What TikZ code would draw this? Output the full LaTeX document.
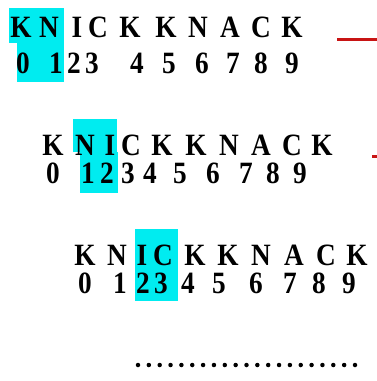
\documentclass[tikz,border=0pt]{standalone}
\usepackage{fontspec}
\setmainfont{Liberation Serif}
\newfontfamily\glyphfont[FakeStretch=0.88]{Liberation Serif Bold}
\definecolor{hlcyan}{RGB}{0,236,240}
\definecolor{markred}{RGB}{200,20,20}
\begin{document}
\begin{tikzpicture}[x=1pt,y=-1pt,
  glyph/.style={anchor=base,inner sep=0pt,font=\glyphfont\fontsize{31}{31}\selectfont},
  hl/.style={fill=hlcyan,draw=none},
  redline/.style={draw=markred,line width=3pt},
  dot/.style={circle,fill=black,inner sep=0pt,minimum size=4.5pt}]
\useasboundingbox (0,0) rectangle (377,381);
% highlights
\fill[hl] (9,8) rectangle (64,43);
\fill[hl] (17,43) rectangle (64,82);
\fill[hl] (73,119) rectangle (117,152);
\fill[hl] (80,152) rectangle (118,193);
\fill[hl] (135,229) rectangle (178,301);
% row 1
\foreach \c/\x [count=\i] in {K/21,N/49,I/77,C/98,K/130,K/166,N/198,A/230,C/261,K/292}
  \node[glyph] (a\i) at (\x,37) {\c};
\foreach \c/\x [count=\i] in {0/23,1/56,2/74,3/92,4/137,5/169,6/202,7/233,8/261,9/292}
  \node[glyph] (b\i) at (\x,73) {\c};
% row 2
\foreach \c/\x [count=\i] in {K/53,N/85,I/110,C/131,K/162,K/196,N/229,A/261,C/292,K/322}
  \node[glyph] (c\i) at (\x,155) {\c};
\foreach \c/\x [count=\i] in {0/53,1/88,2/107,3/128,4/150,5/180,6/213,7/246,8/273,9/300}
  \node[glyph] (d\i) at (\x,183) {\c};
% row 3
\foreach \c/\x [count=\i] in {K/85,N/117,I/142,C/163,K/195,K/228,N/261,A/294,C/326,K/357}
  \node[glyph] (e\i) at (\x,265) {\c};
\foreach \c/\x [count=\i] in {0/85,1/120,2/143,3/161,4/188,5/219,6/256,7/290,8/319,9/349}
  \node[glyph] (f\i) at (\x,293) {\c};
% red marks
\coordinate (r1a) at (337,39);
\coordinate (r1b) at (377,39);
\draw[redline] (r1a) -- (r1b);
\coordinate (r2a) at (372,156);
\coordinate (r2b) at (377,156);
\draw[redline] (r2a) -- (r2b);
% dotted line
\foreach \i in {0,...,20}
  \node[dot] (p\i) at ({138+\i*10.85},365) {};
\end{tikzpicture}
\end{document}
